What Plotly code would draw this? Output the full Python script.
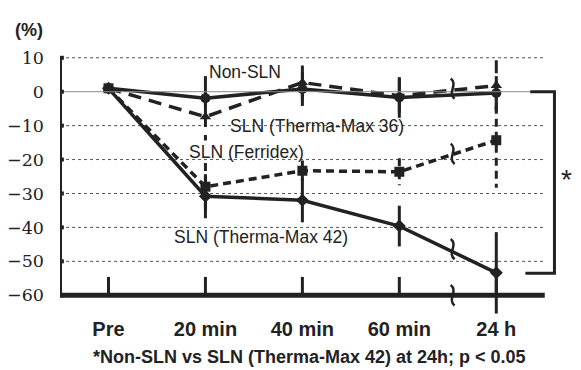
import plotly.graph_objects as go

categories = ["Pre", "20 min", "40 min", "60 min", "24 h"]
xpos = [0, 1, 2, 3, 4]

non_sln = [1.0, -1.9, 0.8, -1.7, -0.4]
non_sln_err = [0, 6.5, 5.0, 6.0, 5.0]
tm36 = [1.0, -7.4, 2.7, -1.2, 1.8]
tm36_err = [0, 7.0, 5.0, 5.0, 7.5]
ferridex = [1.0, -28.0, -23.3, -23.6, -14.3]
ferridex_err = [0, 7.0, 3.0, 4.0, 14.0]
tm42 = [1.0, -30.8, -32.0, -39.6, -53.4]
tm42_err = [0, 6.5, 6.5, 6.0, 12.0]

yticks = [10, 0, -10, -20, -30, -40, -50, -60]
break_x = 3.55
break_y = [0.9, -18.3, -46.4, -60]

INK = "#222222"
XMIN, XMAX = -0.5, 4.75
YMIN, YMAX = -67, 12

series = [
    ("SLN (Therma-Max 36)", tm36, tm36_err, "13px,8px", "triangle-up"),
    ("SLN (Ferridex)", ferridex, ferridex_err, "8px,5px", "square"),
    ("Non-SLN", non_sln, non_sln_err, "solid", "circle"),
    ("SLN (Therma-Max 42)", tm42, tm42_err, "solid", "diamond"),
]

fig = go.Figure()

shapes = []
for v in yticks:
    if v == 0:
        shapes.append(dict(type="line", xref="x", yref="y", x0=XMIN, x1=4.35, y0=v, y1=v,
                           line=dict(color="#888888", width=1)))
    elif v != -60:
        shapes.append(dict(type="line", xref="x", yref="y", x0=XMIN, x1=4.5, y0=v, y1=v,
                           line=dict(color="#555555", width=1, dash="dot"), layer="below"))
shapes.append(dict(type="line", xref="x", yref="y", x0=XMIN, x1=XMIN, y0=10, y1=-60,
                   line=dict(color=INK, width=4)))
for v in yticks:
    shapes.append(dict(type="line", xref="x", yref="y", x0=XMIN, x1=XMIN + 0.04, y0=v, y1=v,
                       line=dict(color=INK, width=4)))
shapes.append(dict(type="line", xref="x", yref="y", x0=XMIN, x1=4.5, y0=-60, y1=-60,
                   line=dict(color=INK, width=5)))
for x in xpos:
    shapes.append(dict(type="line", xref="x", yref="y", x0=x, x1=x, y0=-60, y1=-54.6,
                       line=dict(color=INK, width=3)))
shapes.append(dict(type="path", xref="x", yref="y",
                   path=f"M 4.35,{non_sln[4]+0.4} L 4.6,{non_sln[4]+0.4} L 4.6,{tm42[4]-0.1} L 4.3,{tm42[4]-0.1}",
                   line=dict(color=INK, width=3)))
for by in break_y:
    shapes.append(dict(type="path", xref="x", yref="y",
                       path=(f"M {break_x-0.02},{by+3.0} C {break_x+0.06},{by+1.2} "
                             f"{break_x-0.06},{by-1.2} {break_x+0.02},{by-3.0}"),
                       line=dict(color=INK, width=2.5)))

for name, vals, errs, dash, sym in series:
    ex, ey = [], []
    for x, v, e in zip(xpos, vals, errs):
        if e > 0:
            ex += [x, x, None]
            ey += [v + e, v - e, None]
    fig.add_trace(go.Scatter(x=ex, y=ey, mode="lines", showlegend=False,
                             line=dict(color=INK, width=3, dash=dash), hoverinfo="skip"))

for name, vals, errs, dash, sym in series:
    fig.add_trace(go.Scatter(x=xpos, y=vals, mode="lines+markers", name=name, showlegend=False,
                             line=dict(color=INK, width=3.5, dash=dash),
                             marker=dict(color=INK, size=10, symbol=sym)))

lab_font = dict(family="Liberation Sans", size=17.5, color=INK)
annotations = [
    dict(x=1.02, y=5.7, text="Non-SLN", xanchor="left", yanchor="middle"),
    dict(x=1.23, y=-10.2, text="SLN (Therma-Max 36)", xanchor="left", yanchor="middle"),
    dict(x=0.81, y=-17.9, text="SLN (Ferridex)", xanchor="left", yanchor="middle"),
    dict(x=0.65, y=-42.9, text="SLN (Therma-Max 42)", xanchor="left", yanchor="middle"),
]
for a in annotations:
    a.update(xref="x", yref="y", showarrow=False, font=lab_font)

annotations.append(dict(xref="paper", yref="paper", x=(566 - 60) / 509, y=(319 - 179) / 268,
                        text="*", showarrow=False,
                        font=dict(family="Liberation Sans", size=28, color=INK),
                        xanchor="center", yanchor="middle"))
annotations.append(dict(xref="paper", yref="paper", x=(13 - 60) / 509, y=(319 - 30) / 268,
                        text="<b>(%)</b>", showarrow=False, xanchor="left", yanchor="middle",
                        font=dict(family="Liberation Sans", size=18, color=INK)))
annotations.append(dict(xref="paper", yref="paper", x=(309 - 60) / 509, y=(319 - 357) / 268,
                        text="<b>*Non-SLN vs SLN (Therma-Max 42) at 24h; p < 0.05</b>",
                        showarrow=False, xanchor="center", yanchor="middle",
                        font=dict(family="Liberation Sans", size=18, color=INK)))

# the page body has an 8px default margin, so the figure sits 8px in from the corner
fig.update_layout(
    width=573, height=362,
    margin=dict(l=52, r=12, t=43, b=51),
    paper_bgcolor="white", plot_bgcolor="white",
    shapes=shapes, annotations=annotations,
    xaxis=dict(range=[XMIN, XMAX], tickvals=xpos, ticktext=categories, showgrid=False,
               zeroline=False, showline=False, ticks="", automargin=False,
               ticklabelstandoff=-4,
               tickfont=dict(family="Liberation Sans", size=20, color=INK, weight="bold")),
    yaxis=dict(range=[YMIN, YMAX], tickvals=yticks, showgrid=False, zeroline=False,
               showline=False, ticks="", ticklabelstandoff=15, automargin=False,
               tickfont=dict(family="DejaVu Serif", size=17.5, color=INK)),
)

fig.write_html("out.html")
